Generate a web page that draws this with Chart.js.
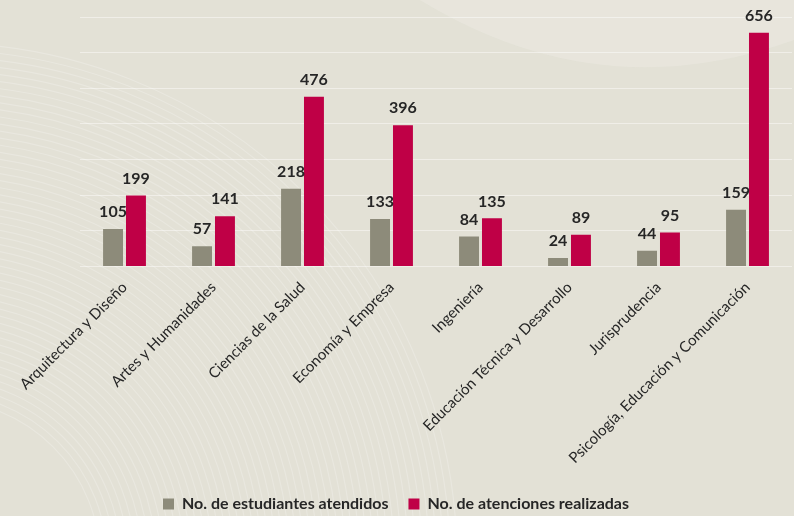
<!DOCTYPE html>
<html>
<head>
<meta charset="utf-8">
<script src="https://cdn.jsdelivr.net/npm/chart.js@4.4.0/dist/chart.umd.min.js"></script>
<style>
  html, body { margin: 0; padding: 0; background: #e3e1d6; }
  #wrap { width: 794px; height: 516px; position: relative; }
</style>
</head>
<body>
<div id="wrap"><canvas id="grafico"></canvas></div>
<script>
const carreras = [
  'Arquitectura y Diseño',
  'Artes y Humanidades',
  'Ciencias de la Salud',
  'Economía y Empresa',
  'Ingeniería',
  'Educación Técnica y Desarrollo',
  'Jurisprudencia',
  'Psicología, Educación y Comunicación'
];
const estudiantes = [105, 57, 218, 133, 84, 24, 44, 159];
const atenciones = [199, 141, 476, 396, 135, 89, 95, 656];

const colorGris = '#8d8b7a';
const colorRojo = '#bf0046';

// fondo con arcos suaves
const fondo = {
  id: 'fondo',
  beforeDraw(chart) {
    const c = chart.ctx;
    c.save();
    c.fillStyle = '#e3e1d6';
    c.fillRect(0, 0, chart.width, chart.height);
    // mancha clara arriba a la derecha
    c.fillStyle = 'rgba(238,236,228,0.45)';
    c.beginPath();
    c.moveTo(420, 0);
    c.quadraticCurveTo(600, 110, 794, 40);
    c.lineTo(794, 0);
    c.closePath();
    c.fill();
    // arcos a la izquierda
    c.lineWidth = 1.2;
    for (let r = 160; r < 520; r += 7) {
      c.strokeStyle = 'rgba(255,255,255,0.22)';
      c.beginPath();
      c.arc(-60, 560, r, -Math.PI / 2, 0);
      c.stroke();
    }
    c.restore();
  }
};

// etiquetas de valor encima de cada barra
const etiquetas = {
  id: 'etiquetas',
  afterDatasetsDraw(chart) {
    const c = chart.ctx;
    c.save();
    c.font = 'bold 16px Lato, sans-serif';
    c.fillStyle = '#262626';
    c.textAlign = 'center';
    c.textBaseline = 'bottom';
    chart.data.datasets.forEach((ds, i) => {
      chart.getDatasetMeta(i).data.forEach((bar, j) => {
        c.fillText(ds.data[j], bar.x, bar.y - 9);
      });
    });
    c.restore();
  }
};

const ctx = document.getElementById('grafico').getContext('2d');
new Chart(ctx, {
  type: 'bar',
  data: {
    labels: carreras,
    datasets: [
      { label: 'No. de estudiantes atendidos', data: estudiantes, backgroundColor: colorGris },
      { label: 'No. de atenciones realizadas', data: atenciones, backgroundColor: colorRojo }
    ]
  },
  options: {
    responsive: true,
    maintainAspectRatio: false,
    animation: false,
    devicePixelRatio: 1,
    categoryPercentage: 0.515,
    barPercentage: 0.87,
    layout: { padding: { left: 0, right: 2, top: 17, bottom: -6 } },
    scales: {
      x: {
        grid: { display: false },
        border: { display: false },
        afterFit(scale) { scale.height += 5; },
        ticks: {
          minRotation: 45,
          maxRotation: 45,
          color: '#262626',
          font: { family: 'Lato, sans-serif', size: 15 },
          padding: 4
        }
      },
      y: {
        min: 0,
        max: 700,
        afterFit(scale) { scale.width = 80; },
        grid: { color: 'rgba(255,255,255,0.45)', lineWidth: 1, drawTicks: false },
        border: { display: false },
        ticks: { display: false, stepSize: 100 }
      }
    },
    plugins: {
      legend: {
        position: 'bottom',
        labels: {
          boxWidth: 11,
          boxHeight: 11,
          color: '#262626',
          padding: 20,
          font: { family: 'Lato, sans-serif', size: 16, weight: 'bold' }
        }
      },
      tooltip: { enabled: false }
    }
  },
  plugins: [fondo, etiquetas]
});
</script>
</body>
</html>
